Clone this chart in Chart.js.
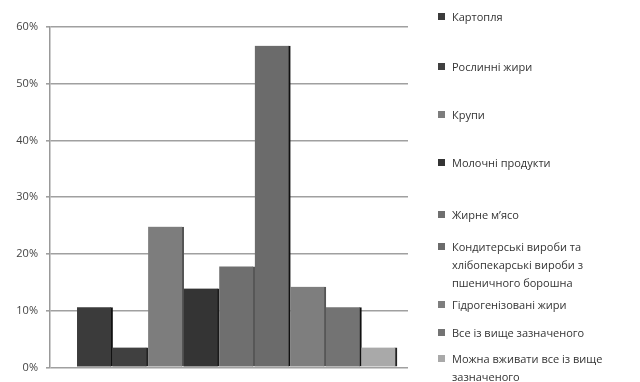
<!DOCTYPE html>
<html>
<head>
<meta charset="utf-8">
<style>
	body { margin: 0; background: #fff; }
	.wrap { position: relative; width: 640px; height: 382px; }
	#chart { position: absolute; left: 0; top: 0; }
	.legend { position: absolute; left: 0; top: 0; width: 640px; height: 382px; pointer-events: none;
		font-family: "Open Sans", "Liberation Sans", sans-serif; font-size: 11px; color: #333; }
	.legend .item { position: absolute; left: 452px; width: 190px; line-height: 18px; white-space: pre-line; }
	.legend .box { position: absolute; left: -14px; top: 5px; width: 7px; height: 7px; }
</style>
</head>
<body>
<div class="wrap">
	<canvas id="chart" width="640" height="382"></canvas>
	<div class="legend" id="legend"></div>
</div>

<script src="https://cdn.jsdelivr.net/npm/chart.js"></script>
<script>
	var categories = [
		'Картопля',
		'Рослинні жири',
		'Крупи',
		'Молочні продукти',
		'Жирне м\u2019ясо',
		'Кондитерські вироби та\nхлібопекарські вироби з\nпшеничного борошна',
		'Гідрогенізовані жири',
		'Все із вище зазначеного',
		'Можна вживати все із вище\nзазначеного'
	];
	var values = [10.6, 3.5, 24.8, 13.9, 17.8, 56.7, 14.2, 10.6, 3.5];
	var yTicks = [0, 10, 20, 30, 40, 50, 60];

	var colors = ['#3b3b3b', '#404040', '#7d7d7d', '#343434', '#6f6f6f', '#6b6b6b', '#7e7e7e', '#737373', '#a9a9a9'];
	var edges = ['#111', '#222', '#555', '#1a1a1a', '#555', '#111', '#555', '#111', '#222'];
	// legend row tops (px)
	var legendTops = [8, 58, 106, 154, 206, 238, 296, 324, 350];

	var legend = document.getElementById('legend');
	categories.forEach(function (c, i) {
		var d = document.createElement('div');
		d.className = 'item';
		d.style.top = legendTops[i] + 'px';
		d.textContent = c;
		var b = document.createElement('span');
		b.className = 'box';
		b.style.background = colors[i];
		d.appendChild(b);
		legend.appendChild(d);
	});

	new Chart(document.getElementById('chart'), {
		type: 'bar',
		data: {
			datasets: [{
				data: values.map(function (v, i) { return { x: i + 1, y: v }; }),
				backgroundColor: colors,
				borderColor: edges,
				borderWidth: { right: 2, left: 0, top: 0, bottom: 0 },
				borderSkipped: false,
				barPercentage: 1,
				categoryPercentage: 1
			}]
		},
		options: {
			responsive: false,
			animation: false,
			layout: { padding: { top: 27, right: 232, bottom: 14, left: 0 } },
			plugins: { legend: { display: false }, tooltip: { enabled: false } },
			scales: {
				x: {
					type: 'linear',
					display: false,
					offset: false,
					min: -0.26,
					max: 9.81
				},
				y: {
					min: 0,
					max: 60,
					afterFit: function (s) { s.width = 50; },
					afterBuildTicks: function (s) { s.ticks = yTicks.map(function (v) { return { value: v }; }); },
					border: { color: '#999', width: 1.5 },
					grid: { color: '#a0a0a0', lineWidth: 1.6, tickLength: 4 },
					ticks: {
						padding: 8,
						color: '#444',
						font: { family: '"Open Sans", "Liberation Sans", sans-serif', size: 11 },
						callback: function (v) { return v + '%'; }
					}
				}
			}
		}
	});
</script>
</body>
</html>
